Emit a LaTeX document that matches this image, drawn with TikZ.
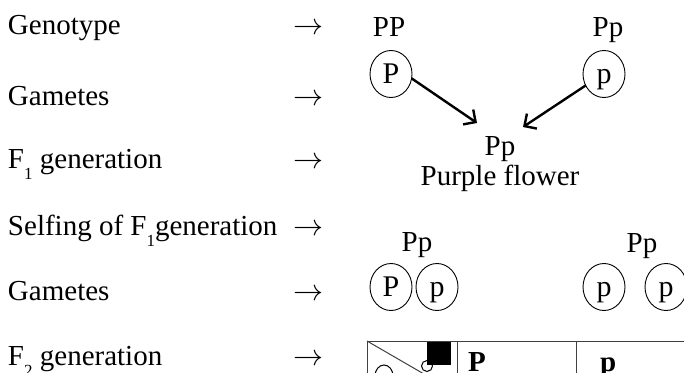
\documentclass[tikz,border=0pt]{standalone}
\usepackage{fontspec}
\setmainfont{Liberation Serif}
\usetikzlibrary{shapes.geometric,arrows.meta}
\newcommand{\lowsub}[1]{\raisebox{-11pt}{\fontsize{17}{17}\selectfont #1}}
\newcommand{\rowarrow}{\resizebox{30pt}{!}{$\rightarrow$}}
\begin{document}
\begin{tikzpicture}[x=1pt,y=-1pt,
  every node/.style={inner sep=0pt,outer sep=0pt,font=\fontsize{29}{34}\selectfont},
  lab/.style={anchor=base west},
  arr/.style={anchor=base west},
  txt/.style={anchor=base},
  gam/.style={ellipse,draw,line width=0.9pt,minimum width=42pt,minimum height=47pt,
    text height=19pt,text depth=1pt,font=\fontsize{30}{34}\selectfont},
  cross/.style={-{Straight Barb[length=9pt,width=18pt]},line width=2.4pt},
  grid/.style={draw=black!75,line width=1pt},
  head/.style={anchor=base west,font=\fontsize{29}{34}\selectfont\bfseries}]
\useasboundingbox (0,0) rectangle (684,372);
\clip (0,0) rectangle (684,372);
% left labels
\node[lab] (l1) at (8,34) {Genotype};
\node[lab] (l2) at (8,105) {Gametes};
\node[lab] (l3) at (8,168) {F\lowsub{1} generation};
\node[lab] (l4) at (8,235) {Selfing of F\lowsub{1}generation};
\node[lab] (l5) at (8,300) {Gametes};
\node[lab] (l6) at (8,365) {F\lowsub{2} generation};
% row arrows
\node[arr] (r1) at (293,34) {\rowarrow};
\node[arr] (r2) at (293,105) {\rowarrow};
\node[arr] (r3) at (293,168) {\rowarrow};
\node[arr] (r4) at (293,235) {\rowarrow};
\node[arr] (r5) at (293,300) {\rowarrow};
\node[arr] (r6) at (293,365) {\rowarrow};
% parents
\node[txt] (pp1) at (389,36) {PP};
\node[txt] (pp2) at (608,36) {Pp};
\node[gam] (g1) at (391,74) {P};
\node[gam] (g2) at (604,74) {p};
\node[txt] (f1) at (500,155) {Pp};
\node[txt] (pf) at (500,185) {Purple flower};
\coordinate (t1) at (477,123);
\coordinate (t2) at (523,127);
\draw[cross] (g1.-12) -- (t1);
\draw[cross] (g2.212) -- (t2);
% selfing
\node[txt] (s1) at (417,251) {Pp};
\node[txt] (s2) at (642,252) {Pp};
\node[gam] (g3) at (391,287) {P};
\node[gam] (g4) at (437,287) {p};
\node[gam] (g5) at (604,287) {p};
\node[gam] (g6) at (666,287) {p};
% Punnett square (top part)
\draw[grid] (367,380) -- (367,341) -- (690,341);
\draw[grid] (457,341) -- (457,380);
\draw[grid] (576,341) -- (576,380);
\draw[grid] (367,341) -- (424,374);
\draw[line width=1pt] (384,376) ellipse (9 and 11);
\draw[line width=1pt] (427,366) circle (5.5);
\fill (427,342) rectangle (451,365);
\node[head] (hP) at (468,371) {P};
\node[head] (hp) at (600,371) {p};
\end{tikzpicture}
\end{document}
